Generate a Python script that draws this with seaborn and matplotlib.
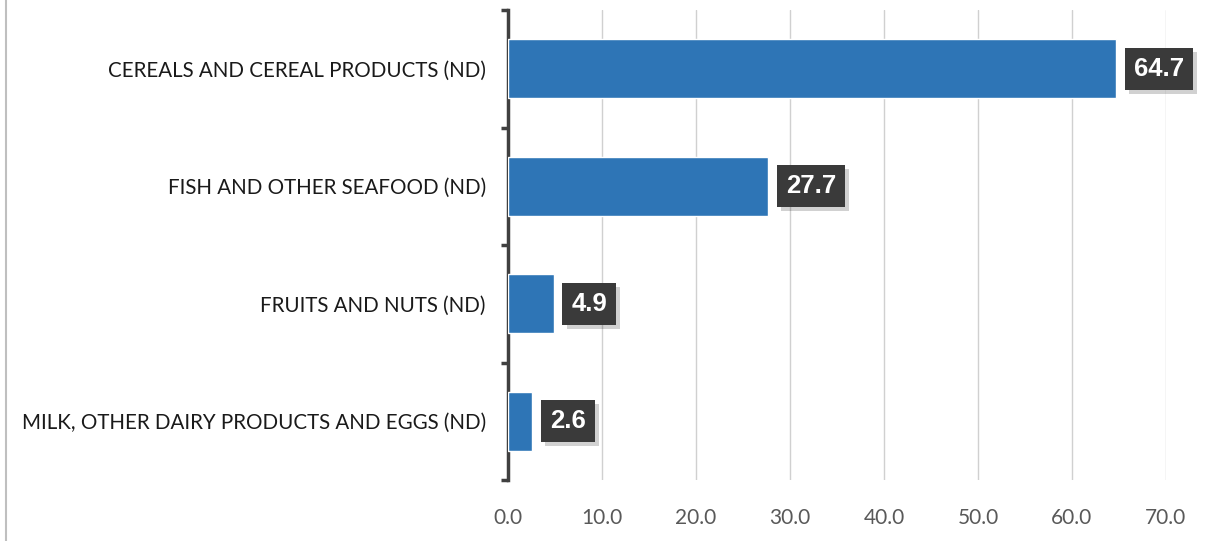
import matplotlib
matplotlib.use("Agg")
import matplotlib.pyplot as plt
import matplotlib.patheffects as pe
import seaborn as sns
import pandas as pd
from matplotlib.lines import Line2D
from matplotlib.ticker import FixedLocator

categories = ["CEREALS AND CEREAL PRODUCTS (ND)",
              "FISH AND OTHER SEAFOOD (ND)",
              "FRUITS AND NUTS (ND)",
              "MILK, OTHER DAIRY PRODUCTS AND EGGS (ND)"]
values = [64.7, 27.7, 4.9, 2.6]
x_ticks = [0, 10, 20, 30, 40, 50, 60, 70]

sns.set_theme(style="white")
plt.rcParams['font.family'] = ['Lato', 'DejaVu Sans']

df = pd.DataFrame({"category": categories, "value": values})

fig = plt.figure(figsize=(12.15, 5.41), dpi=100)
ax = fig.add_axes([508/1215, 1-480/541, (1166-508)/1215, 470/541])

sns.barplot(data=df, x="value", y="category", orient="h", color="#2E75B6",
            width=0.5, saturation=1, ax=ax, zorder=3)

ax.set_xlim(0, 70)
ax.set_ylim(len(categories)-0.5, -0.5)
ax.xaxis.set_major_locator(FixedLocator(x_ticks))
ax.set_xticklabels([f"{t:.1f}" for t in x_ticks])
ax.grid(axis="x", color="#d0d0d0", linewidth=1.0, zorder=0)
ax.set_axisbelow(True)
ax.set_xlabel("")
ax.set_ylabel("")

for s in ["top", "right", "bottom"]:
    ax.spines[s].set_visible(False)
ax.spines["left"].set_color("#404040")
ax.spines["left"].set_linewidth(2.5)

ax.tick_params(axis="x", length=0, labelsize=15, labelcolor="#595959", pad=20)
ax.tick_params(axis="y", which="major", length=0, labelsize=14.8, labelcolor="#1a1a1a", pad=16)
ax.yaxis.set_minor_locator(FixedLocator([-0.5, 0.5, 1.5, 2.5, 3.5]))
ax.tick_params(axis="y", which="minor", length=5, width=2.5, color="#404040", left=True)

for i, v in enumerate(values):
    t = ax.annotate(f"{v:.1f}", xy=(v, i), xytext=(12.5, 0), textcoords="offset points",
                    ha="left", va="center", fontsize=18.5, fontweight="bold",
                    family="Liberation Sans", color="white",
                    bbox=dict(boxstyle="square,pad=0.35", fc="#3a3a3a", ec="none"),
                    annotation_clip=False, zorder=5)
    t.get_bbox_patch().set_path_effects(
        [pe.SimplePatchShadow(offset=(3, -3), shadow_rgbFace="#000000", alpha=0.18), pe.Normal()])

fig.add_artist(Line2D([5.5/1215, 5.5/1215], [0, 1], color="#bfbfbf", linewidth=1.5))

fig.savefig("out.png", dpi=100)
